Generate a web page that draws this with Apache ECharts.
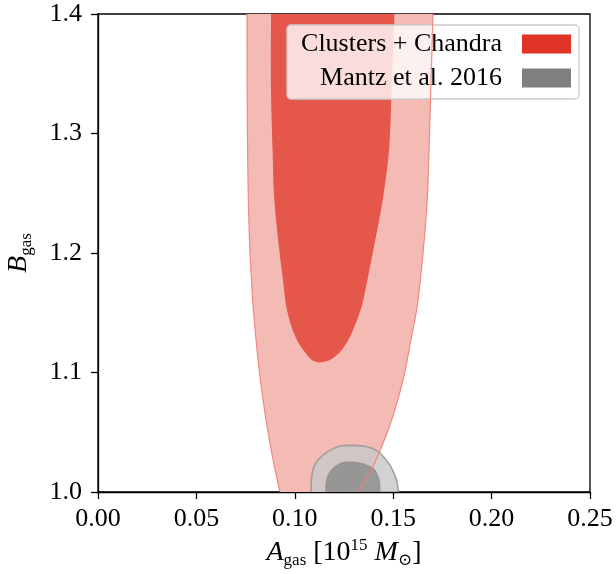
<!DOCTYPE html>
<html>
<head>
<meta charset="utf-8">
<script src="https://cdn.jsdelivr.net/npm/echarts@6/dist/echarts.min.js"></script>
<style>
  html, body { margin: 0; padding: 0; background: #fff; }
  #chart { width: 616px; height: 574px; }
</style>
</head>
<body>
<div id="chart"></div>
<script>
// ---- Data ----
var xTicks = [0.00, 0.05, 0.10, 0.15, 0.20, 0.25];
var yTicks = [1.0, 1.1, 1.2, 1.3, 1.4];
var legendNames = ['Clusters + Chandra', 'Mantz et al. 2016'];

// Clusters + Chandra, outer (95%) contour (continues beyond the plotted range, clipped)
var chandraOuter = [
  [0.0947, 0.985], [0.0925, 1.000], [0.0900, 1.0184], [0.0880, 1.0351], [0.0854, 1.0603],
  [0.0825, 1.0937], [0.0803, 1.1272], [0.0786, 1.1607], [0.0772, 1.2025], [0.0764, 1.2444],
  [0.0760, 1.2862], [0.0758, 1.3364], [0.0757, 1.400], [0.0757, 1.4285],
  [0.1705, 1.4285], [0.1702, 1.400], [0.1691, 1.3364], [0.1682, 1.2862], [0.1673, 1.2444],
  [0.1653, 1.2025], [0.1623, 1.1565], [0.1590, 1.1272], [0.1550, 1.0937], [0.1492, 1.0603],
  [0.1428, 1.0326], [0.1375, 1.0142], [0.1321, 1.000], [0.1265, 0.985]
];
// Clusters + Chandra, inner (68%) contour
var chandraInner = [
  [0.0879, 1.4285], [0.0879, 1.400], [0.0879, 1.3364], [0.0887, 1.2862], [0.0896, 1.2444],
  [0.0921, 1.2025], [0.0940, 1.1774], [0.0955, 1.1565], [0.0973, 1.1439], [0.0989, 1.1356],
  [0.1016, 1.1255], [0.1043, 1.1188], [0.1073, 1.1126], [0.1096, 1.1096], [0.1123, 1.1084],
  [0.1164, 1.1096], [0.1199, 1.1126], [0.1238, 1.1188], [0.1272, 1.1272], [0.1296, 1.1356],
  [0.1321, 1.1460], [0.1342, 1.1565], [0.1372, 1.1799], [0.1399, 1.2025], [0.1447, 1.2444],
  [0.1479, 1.2862], [0.1492, 1.3364], [0.1506, 1.400], [0.1507, 1.4285]
];
// Mantz et al. 2016, outer contour
var mantzOuter = [
  [0.1080, 0.989], [0.1082, 1.000], [0.1086, 1.013], [0.1097, 1.021], [0.1119, 1.027],
  [0.1169, 1.034], [0.1230, 1.0385], [0.1296, 1.039], [0.1362, 1.038], [0.1423, 1.034],
  [0.1463, 1.027], [0.1492, 1.020], [0.1517, 1.010], [0.1526, 1.000], [0.1527, 0.989]
];
// Mantz et al. 2016, inner contour
var mantzInner = [
  [0.1156, 0.989], [0.1157, 1.000], [0.1161, 1.010], [0.1179, 1.017], [0.1209, 1.0218],
  [0.1245, 1.0247], [0.1286, 1.0251], [0.1331, 1.0243], [0.1377, 1.0218], [0.1407, 1.0184],
  [0.1429, 1.010], [0.1433, 1.000], [0.1434, 0.989]
];

// ---- Rendering helpers ----
function shapeSeries(name, pts, opts) {
  return {
    type: 'custom',
    name: name,
    coordinateSystem: 'cartesian2d',
    clip: true,
    silent: true,
    z: opts.z || 2,
    itemStyle: { color: opts.legendColor },
    data: pts,
    renderItem: function (params, api) {
      if (params.dataIndex !== 0) return;
      var p = pts.map(function (q) { return api.coord(q); });
      return {
        type: 'polygon',
        shape: { points: p, smooth: opts.smooth == null ? 0.3 : opts.smooth },
        style: {
          fill: opts.fill || null,
          stroke: opts.stroke || null,
          lineWidth: opts.lineWidth || 1.2
        }
      };
    }
  };
}

var chart = echarts.init(document.getElementById('chart'), null, { renderer: 'canvas' });
var serif = 'Liberation Serif, DejaVu Serif, serif';

var option = {
  animation: false,
  backgroundColor: '#ffffff',
  grid: {
    left: 98, right: 26, top: 14, bottom: 82,
    containLabel: false, outerBoundsMode: 'none',
    show: true, borderColor: '#000', borderWidth: 1.3, backgroundColor: 'transparent'
  },
  legend: {
    orient: 'vertical',
    right: 37, top: 25,
    align: 'right',
    icon: 'rect',
    itemWidth: 49, itemHeight: 19,
    itemGap: 8,
    padding: [6, 8, 8, 11],
    backgroundColor: 'rgba(255,255,255,0.8)',
    borderColor: '#cccccc', borderWidth: 1.3, borderRadius: 4,
    selectedMode: false,
    data: [
      { name: legendNames[0], itemStyle: { color: '#e03426' } },
      { name: legendNames[1], itemStyle: { color: '#808080' } }
    ],
    formatter: function (n) { return '{t|' + n + '}'; },
    textStyle: {
      rich: { t: { fontFamily: serif, fontSize: 26, color: '#000', width: 204, align: 'right', lineHeight: 25, padding: [0, 15, 0, 0] } }
    }
  },
  xAxis: {
    type: 'value', min: xTicks[0], max: xTicks[xTicks.length - 1], interval: 0.05,
    name: '{i|A}{sub|gas} [10{sup|15} {i|M}{sub|\u2299}]',
    nameLocation: 'middle', nameGap: 38,
    nameTextStyle: {
      fontFamily: serif, fontSize: 28, color: '#000', lineHeight: 32,
      rich: {
        i: { fontFamily: serif, fontStyle: 'italic', fontSize: 28, lineHeight: 32 },
        sub: { fontFamily: serif, fontSize: 17, lineHeight: 14, verticalAlign: 'bottom' },
        sup: { fontFamily: serif, fontSize: 17, lineHeight: 16, verticalAlign: 'top' }
      }
    },
    axisLine: { show: true, lineStyle: { color: '#000', width: 1.3 } },
    axisTick: { show: true, inside: false, length: 7, lineStyle: { color: '#000', width: 1.3 } },
    axisLabel: { fontFamily: serif, fontSize: 26, color: '#000', margin: 14,
      formatter: function (v) { return v.toFixed(2); } },
    splitLine: { show: false }
  },
  yAxis: {
    type: 'value', min: yTicks[0], max: yTicks[yTicks.length - 1], interval: 0.1,
    name: '{i|B}{sub|gas}',
    nameLocation: 'middle', nameGap: 63, nameRotate: 90,
    nameTextStyle: {
      fontFamily: serif, fontSize: 28, color: '#000', lineHeight: 32,
      rich: {
        i: { fontFamily: serif, fontStyle: 'italic', fontSize: 28, lineHeight: 32 },
        sub: { fontFamily: serif, fontSize: 17, lineHeight: 14, verticalAlign: 'bottom' }
      }
    },
    axisLine: { show: true, lineStyle: { color: '#000', width: 1.3 } },
    axisTick: { show: true, inside: false, length: 7, lineStyle: { color: '#000', width: 1.3 } },
    axisLabel: { fontFamily: serif, fontSize: 26, color: '#000', margin: 16,
      formatter: function (v) { return v.toFixed(1); } },
    splitLine: { show: false }
  },
  series: [
    shapeSeries(legendNames[0], chandraOuter, { fill: '#f4bbb5', legendColor: '#e03426', z: 2 }),
    shapeSeries(legendNames[0], chandraInner, { fill: '#e5564b', legendColor: '#e03426', z: 3 }),
    shapeSeries(legendNames[1], mantzOuter, { fill: 'rgba(200,200,200,0.82)', stroke: 'rgba(150,150,150,0.85)', lineWidth: 1.6, legendColor: '#808080', z: 4 }),
    shapeSeries(legendNames[1], mantzInner, { fill: 'rgba(128,128,128,0.7)', stroke: 'rgba(128,128,128,0.5)', lineWidth: 1.2, legendColor: '#808080', z: 5 }),
    shapeSeries(legendNames[0], chandraOuter, { stroke: 'rgba(240,128,115,0.9)', lineWidth: 1.2, legendColor: '#e03426', z: 6 })
  ]
};
chart.setOption(option);
</script>
</body>
</html>
